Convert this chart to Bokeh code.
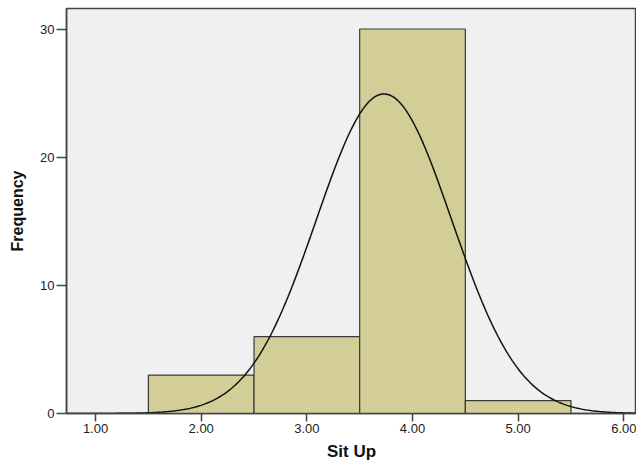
import numpy as np
from bokeh.plotting import figure
from bokeh.models import Range1d, FixedTicker, ColumnDataSource
from bokeh.embed import file_html
from bokeh.resources import INLINE

# Histogram bins (Sit Up) and frequencies
bin_left = [1.5, 2.5, 3.5, 4.5]
bin_right = [2.5, 3.5, 4.5, 5.5]
frequency = [3, 6, 30, 1]

# Fitted normal curve parameters
curve_mean = 3.73
curve_sd = 0.64
n_total = sum(frequency)
bin_width = 1.0

x_ticks = [1, 2, 3, 4, 5, 6]
x_tick_labels = ["1.00", "2.00", "3.00", "4.00", "5.00", "6.00"]
y_ticks = [0, 10, 20, 30]

p = figure(width=636, height=463, output_backend="svg", toolbar_location=None,
           x_range=Range1d(0.725, 6.12), y_range=Range1d(0, 31.6),
           min_border_left=66, min_border_right=0, min_border_top=8, min_border_bottom=49)
p.background_fill_color = "#f0f0f0"
p.border_fill_color = "white"
p.outline_line_color = "#444444"
p.outline_line_width = 1.5
p.xgrid.visible = False
p.ygrid.visible = False

src = ColumnDataSource(dict(left=bin_left, right=bin_right, top=frequency, bottom=[0] * len(frequency)))
p.quad(left="left", right="right", top="top", bottom="bottom", source=src,
       fill_color="#d3ce98", line_color="#3a3a3a", line_width=1.2)

xs = np.linspace(0.725, 6.12, 400)
ys = n_total * bin_width / (curve_sd * np.sqrt(2 * np.pi)) * np.exp(-0.5 * ((xs - curve_mean) / curve_sd) ** 2)
p.line(xs, ys, line_color="#111111", line_width=1.5)

font = "Liberation Sans"
p.xaxis.ticker = FixedTicker(ticks=x_ticks)
p.xaxis.major_label_overrides = {t: l for t, l in zip(x_ticks, x_tick_labels)}
p.yaxis.ticker = FixedTicker(ticks=y_ticks)
p.xaxis.axis_label = "Sit Up"
p.yaxis.axis_label = "Frequency"
for ax in (p.xaxis, p.yaxis):
    ax.minor_tick_line_color = None
    ax.major_tick_in = 0
    ax.axis_line_color = "#444444"
    ax.axis_line_width = 1.5
    ax.major_tick_line_color = "#444444"
    ax.major_tick_line_width = 1.5
    ax.major_label_text_font = font
    ax.major_label_text_font_size = "13px"
    ax.major_label_text_color = "#222222"
    ax.axis_label_text_font = font
    ax.axis_label_text_font_style = "bold"
    ax.axis_label_text_color = "#111111"
p.xaxis.major_tick_out = 8
p.yaxis.major_tick_out = 10
p.xaxis.major_label_standoff = 2
p.yaxis.major_label_standoff = 2
p.xaxis.axis_label_text_font_size = "17px"
p.yaxis.axis_label_text_font_size = "16px"
p.xaxis.axis_label_standoff = 6
p.yaxis.axis_label_standoff = 11

open("out.html", "w").write(file_html(p, INLINE))
